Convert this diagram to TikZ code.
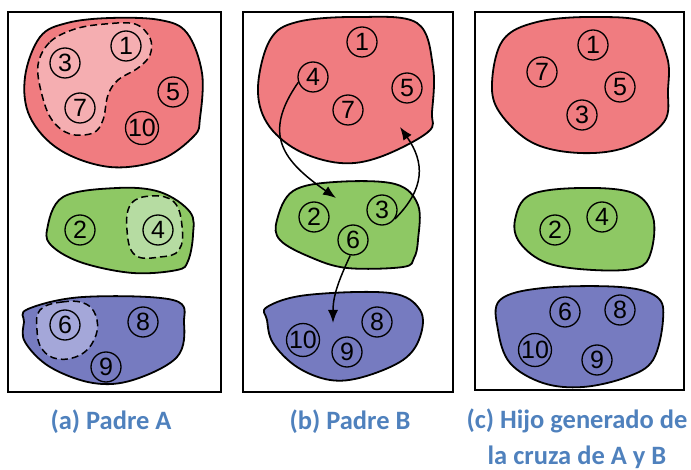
\documentclass[tikz,border=0pt]{standalone}
\usepackage{fontspec}
\newfontfamily\numfont{Liberation Sans}
\newfontfamily\capfont{Carlito}
\usetikzlibrary{arrows.meta}
\definecolor{setred}{RGB}{240,124,128}
\definecolor{setredlight}{RGB}{245,174,177}
\definecolor{setgreen}{RGB}{142,200,100}
\definecolor{setgreenlight}{RGB}{182,220,162}
\definecolor{setblue}{RGB}{118,123,192}
\definecolor{setbluelight}{RGB}{164,167,217}
\definecolor{capblue}{RGB}{79,129,189}

\begin{document}
\begin{tikzpicture}[x=1pt, y=-1pt, >={Latex[length=13pt,width=10pt]},
 num/.style={circle, draw, line width=1.3pt, minimum size=30pt, inner sep=0pt, font=\numfont\fontsize{25}{25}\selectfont},
 blob/.style={draw, line width=1.8pt, line join=round},
 pick/.style={dash pattern=on 7pt off 4pt, line width=1.5pt},
 panel/.style={draw, line width=1.5pt},
 caption/.style={text=capblue, align=center, font=\capfont\bfseries\fontsize{26.5}{36}\selectfont},
 move/.style={->, line width=1.5pt}]

\useasboundingbox (0,0) rectangle (691,470);

\draw[panel] (8,12) rectangle (221,392);
\draw[panel] (243,12) rectangle (453,392);
\draw[panel] (475,12) rectangle (684,390);

% (a) Padre A
\path[blob, fill=setred] plot[smooth cycle, tension=0.6] coordinates {(25,77) (40,37) (67,23) (110,18) (160,20) (187,33) (202,73) (200,118) (194,136) (160,160) (110,167) (60,150) (30,117)};
\path[blob, fill=setgreen] plot[smooth cycle, tension=0.6] coordinates {(47,230) (63,197) (117,188) (160,192) (190,212) (193,235) (188,261) (177,270) (133,273) (83,263) (53,247)};
\path[blob, fill=setblue] plot[smooth cycle, tension=0.6] coordinates {(28,309) (83,297) (173,300) (184,323) (177,357) (133,380) (93,383) (50,367) (25,342) (24,322)};

\draw[pick, fill=setredlight] plot[smooth cycle, tension=0.6] coordinates {(38,65) (50,42) (75,29) (105,24) (135,24) (150,38) (150,55) (138,68) (118,80) (108,95) (103,120) (93,133) (70,134) (52,120) (42,95)};
\draw[pick, fill=setgreenlight] plot[smooth cycle, tension=0.7] coordinates {(131,204) (152,196) (174,202) (182,226) (179,250) (160,257) (135,255) (127,230)};
\draw[pick, fill=setbluelight] plot[smooth cycle, tension=0.7] coordinates {(40,310) (62,302) (86,304) (97,320) (94,340) (80,355) (58,359) (42,349) (37,330)};

\node[num] (a1) at (126,46) {1};
\node[num] (a3) at (65,63) {3};
\node[num] (a7) at (80,108) {7};
\node[num] (a5) at (173,92) {5};
\node[num] (a10) at (142,128) {10};
\node[num] (a2) at (80,230) {2};
\node[num] (a4) at (158,230) {4};
\node[num] (a6) at (65,325) {6};
\node[num] (a8) at (143,322) {8};
\node[num] (a9) at (106,367) {9};

% (b) Padre B
\path[blob, fill=setred] plot[smooth cycle, tension=0.6] coordinates {(258,87) (270,40) (297,22) (357,17) (417,23) (433,67) (432,112) (428,132) (380,157) (340,163) (297,150) (267,123)};
\path[blob, fill=setgreen] plot[smooth cycle, tension=0.6] coordinates {(277,220) (293,191) (335,182) (395,184) (418,205) (418,240) (414,258) (403,267) (347,268) (310,257) (280,240)};
\path[blob, fill=setblue] plot[smooth cycle, tension=0.6] coordinates {(267,307) (307,295) (390,293) (420,310) (420,337) (403,360) (363,377) (330,380) (297,367) (273,343) (267,320)};

\node[num] (b1) at (362,42) {1};
\node[num] (b4) at (313,77) {4};
\node[num] (b5) at (407,88) {5};
\node[num] (b7) at (348,110) {7};
\node[num] (b2) at (314,217) {2};
\node[num] (b3) at (382,210) {3};
\node[num] (b6) at (353,240) {6};
\node[num] (b10) at (303,340) {10};
\node[num] (b9) at (347,352) {9};
\node[num] (b8) at (377,322) {8};

\coordinate (toGreen) at (336,198);
\coordinate (toRed) at (400,127);
\coordinate (toBlue) at (333,323);

\draw[move] (b4.200) to[out=235, in=145, looseness=1.35] (toGreen);
\draw[move] (b3.-35) to[out=45, in=-55, looseness=1.2] (toRed);
\draw[move] (b6.-100) to[out=-115, in=90] (toBlue);

% (c) Hijo
\path[blob, fill=setred] plot[smooth cycle, tension=0.6] coordinates {(492,83) (503,40) (537,22) (593,17) (647,23) (667,57) (668,90) (664,122) (627,147) (580,153) (533,143) (500,113)};
\path[blob, fill=setgreen] plot[smooth cycle, tension=0.6] coordinates {(515,220) (530,195) (580,188) (633,193) (653,217) (651,252) (637,268) (593,270) (547,263) (520,243)};
\path[blob, fill=setblue] plot[smooth cycle, tension=0.6] coordinates {(500,300) (543,288) (620,287) (657,297) (663,320) (653,360) (627,377) (583,387) (543,383) (510,363) (498,330)};

\node[num] (c1) at (593,45) {1};
\node[num] (c7) at (542,72) {7};
\node[num] (c5) at (620,87) {5};
\node[num] (c3) at (582,115) {3};
\node[num] (c2) at (555,230) {2};
\node[num] (c4) at (602,217) {4};
\node[num] (c6) at (565,312) {6};
\node[num] (c8) at (620,310) {8};
\node[num] (c10) at (535,350) {10};
\node[num] (c9) at (597,360) {9};

\node[caption, anchor=base] (capA) at (111,429) {(a) Padre A};
\node[caption, anchor=base] (capB) at (350,429) {(b) Padre B};
\node[caption, anchor=north] (capC) at (577,405) {(c) Hijo generado de\\la cruza de A y B};
\end{tikzpicture}
\end{document}
